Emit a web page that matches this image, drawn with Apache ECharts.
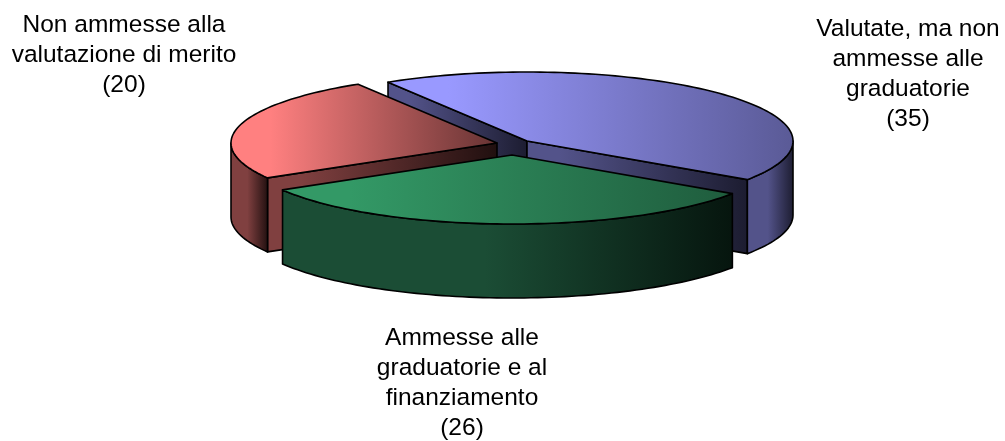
<!DOCTYPE html>
<html><head><meta charset="utf-8">
<style>html,body{margin:0;padding:0;background:#fff}#c{width:1005px;height:441px}</style>
<script src="https://cdn.jsdelivr.net/npm/echarts@6/dist/echarts.min.js"></script>
</head><body><div id="c"></div>
<script>
const categories = ['Valutate, ma non\nammesse alle\ngraduatorie', 'Ammesse alle\ngraduatorie e al\nfinanziamento', 'Non ammesse alla\nvalutazione di merito'];
const values = [35, 26, 20];

// layout and style (not data)
const pie = { cx: 512, cy: 146, rx: 266, ry: 69, depth: 74, startDeg: 121.5 };
const pull = [[15, -5], [0, 9], [-15, -3]];
const stack = [0, 2, 1];
const labelAt = [[908, 14], [462, 323], [124, 10]];
const topColors = [['#9999ff', '#5a5a96'], ['#339966', '#1f5c3d'], ['#ff8080', '#663333']];
const wallColors = [['#53538a', '#1c1c30'], ['#1b4d35', '#06150e'], ['#804040', '#200f0f']];
const holdTop = 0.15, holdFace = 0.15, holdOuter = 0.45;

const total = values.reduce((a, b) => a + b, 0);
const rad = d => d * Math.PI / 180;
const hGrad = (c, hold) => new echarts.graphic.LinearGradient(0, 0, 1, 0, [
  { offset: 0, color: c[0] }, { offset: hold, color: c[0] }, { offset: 1, color: c[1] }
]);

function renderItem(params, api) {
  const i = params.dataIndex;
  const before = values.slice(0, i).reduce((a, b) => a + b, 0);
  const a0 = pie.startDeg - before / total * 360;
  const a1 = a0 - api.value(0) / total * 360;
  const cx = pie.cx + pull[i][0], cy = pie.cy + pull[i][1];
  const pt = (d, dz) => [cx + pie.rx * Math.cos(rad(d)), cy - pie.ry * Math.sin(rad(d)) + (dz || 0)];
  const arc = (from, to, dz) => {
    const n = Math.max(2, Math.ceil(Math.abs(to - from) / 1.5));
    const out = [];
    for (let k = 0; k <= n; k++) out.push(pt(from + (to - from) * k / n, dz));
    return out;
  };
  const style = fill => ({ fill, stroke: '#000', lineWidth: 1.6, lineJoin: 'round' });
  const kids = [];
  let z = stack[i] * 10;
  const add = el => { el.z2 = z++; kids.push(el); };
  const apex = [cx, cy], apexB = [cx, cy + pie.depth];
  const face = d => {
    const r = pt(d), rb = pt(d, pie.depth);
    const pts = r[0] < cx ? [r, apex, apexB, rb] : [apex, r, rb, apexB];
    add({ type: 'polygon', shape: { points: pts }, style: style(hGrad(wallColors[i], holdFace)) });
  };
  if (Math.cos(rad(a0)) < 0) face(a0);
  if (Math.cos(rad(a1)) > 0) face(a1);
  const from = Math.min(a0, 0), to = Math.max(a1, -180);
  if (from > to) {
    const pts = arc(from, to, 0).concat(arc(to, from, pie.depth));
    add({ type: 'polygon', shape: { points: pts }, style: style(hGrad(wallColors[i], holdOuter)) });
  }
  add({ type: 'polygon', shape: { points: [apex].concat(arc(a0, a1, 0)) }, style: style(hGrad(topColors[i], holdTop)) });
  add({
    type: 'text',
    style: {
      x: labelAt[i][0], y: labelAt[i][1],
      text: categories[i] + '\n(' + api.value(0) + ')',
      fill: '#000', align: 'center', verticalAlign: 'top',
      font: '24.5px "Liberation Sans", Arial, sans-serif', lineHeight: 30.2
    }
  });
  return { type: 'group', children: kids };
}

const chart = echarts.init(document.getElementById('c'), null, { renderer: 'canvas' });
chart.setOption({
  animation: false,
  backgroundColor: '#fff',
  series: [{
    type: 'custom',
    coordinateSystem: 'none',
    renderItem,
    data: values.map(v => [v])
  }]
});
</script></body></html>
